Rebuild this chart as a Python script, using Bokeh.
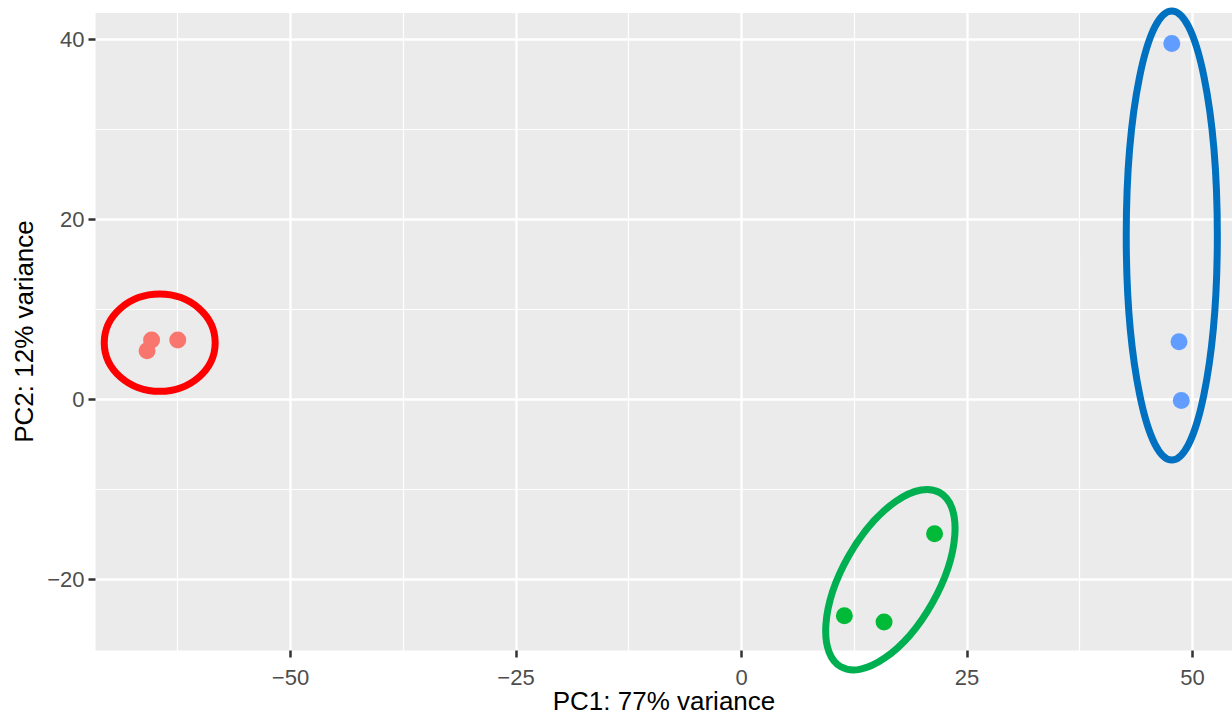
from bokeh.plotting import figure
from bokeh.models import Range1d, FixedTicker, BoxAnnotation
from bokeh.embed import file_html
from bokeh.resources import INLINE

# Sample scores (PC1, PC2) by group
red_x = [-65.4, -62.5, -65.9]
red_y = [6.6, 6.6, 5.4]
green_x = [21.4, 11.4, 15.8]
green_y = [-14.9, -24.0, -24.7]
blue_x = [47.7, 48.5, 48.75]
blue_y = [39.5, 6.4, -0.1]

# Hand-drawn group ellipses (centre x, centre y, width, height, angle rad)
ell_x = [-64.5, 16.5, 47.7]
ell_y = [6.3, -20.0, 18.2]
ell_w = [12.3, 22.2, 10.1]
ell_h = [10.8, 10.65, 49.9]
ell_a = [0.0, 1.054, 0.0]
ell_c = ["#FF0000", "#00B050", "#0070C0"]

# Panel limits (data units)
pan_x = [-71.62, 54.43]
pan_y = [-27.86, 42.9]

x_ticks = [-50, -25, 0, 25, 50]
x_labels = ["\u221250", "\u221225", "0", "25", "50"]
x_minor = [-62.5, -37.5, -12.5, 12.5, 37.5]
y_ticks = [-20, 0, 20, 40]
y_labels = ["\u221220", "0", "20", "40"]
y_minor = [-10, 10, 30]

FONT = "Liberation Sans"

p = figure(width=1232, height=715, output_backend="svg", toolbar_location=None,
           x_range=Range1d(-82.15, 54.43), y_range=Range1d(-35.07, 44.28),
           min_border=0)

p.background_fill_color = "white"
p.border_fill_color = "white"
p.outline_line_color = None

# grey panel
p.add_layout(BoxAnnotation(left=pan_x[0], right=pan_x[1] + 5, bottom=pan_y[0], top=pan_y[1],
                           fill_color="#EBEBEB", fill_alpha=1, line_color=None, level="image"))

p.xaxis.ticker = FixedTicker(ticks=x_ticks, minor_ticks=x_minor)
p.yaxis.ticker = FixedTicker(ticks=y_ticks, minor_ticks=y_minor)
p.xaxis.major_label_overrides = {t: l for t, l in zip(x_ticks, x_labels)}
p.yaxis.major_label_overrides = {t: l for t, l in zip(y_ticks, y_labels)}
p.xaxis.fixed_location = pan_y[0]
p.yaxis.fixed_location = pan_x[0]
p.xaxis.bounds = (pan_x[0], pan_x[1])
p.yaxis.bounds = (pan_y[0], pan_y[1])

for ax in (p.xaxis, p.yaxis):
    ax.axis_line_color = None
    ax.major_tick_in = 0
    ax.major_tick_out = 7
    ax.major_tick_line_color = "#333333"
    ax.major_tick_line_width = 2.5
    ax.minor_tick_in = 0
    ax.minor_tick_out = 0
    ax.major_label_text_font = FONT
    ax.major_label_text_font_size = "22px"
    ax.major_label_text_color = "#4D4D4D"
    ax.axis_label_text_font = FONT
    ax.axis_label_text_font_size = "26px"
    ax.axis_label_text_font_style = "normal"
    ax.axis_label_text_color = "black"

p.xaxis.axis_label = "PC1: 77% variance"
p.yaxis.axis_label = "PC2: 12% variance"
p.yaxis.major_label_standoff = 4
p.yaxis.axis_label_standoff = 5
p.xaxis.major_label_standoff = 12
p.xaxis.axis_label_standoff = -2

for g in (p.xgrid, p.ygrid):
    g.grid_line_color = "white"
    g.grid_line_width = 2.3
    g.minor_grid_line_color = "white"
    g.minor_grid_line_width = 1.2

p.scatter(red_x, red_y, size=17, color="#F8766D", line_color=None)
p.scatter(green_x, green_y, size=17, color="#00BA38", line_color=None)
p.scatter(blue_x, blue_y, size=17, color="#619CFF", line_color=None)

p.ellipse(x=ell_x, y=ell_y, width=ell_w, height=ell_h, angle=ell_a,
          fill_color=None, line_color=ell_c, line_width=7)

open("out.html", "w").write(file_html(p, INLINE))
